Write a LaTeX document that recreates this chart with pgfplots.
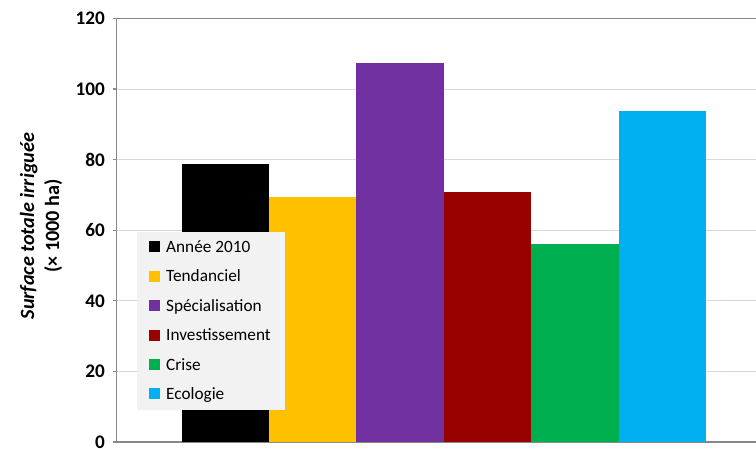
\documentclass[border=0pt]{standalone}
\usepackage{pgfplots}
\pgfplotsset{compat=1.18}
\usepackage{fontspec}
\setmainfont{Carlito}
\definecolor{c1}{HTML}{000000}
\definecolor{c2}{HTML}{FFC000}
\definecolor{c3}{HTML}{7030A0}
\definecolor{c4}{HTML}{990000}
\definecolor{c5}{HTML}{00B050}
\definecolor{c6}{HTML}{00B0F0}
\definecolor{axgray}{HTML}{898989}
\definecolor{gridgray}{HTML}{D9D9D9}
\definecolor{legfill}{HTML}{F2F2F2}
\begin{document}
\begin{tikzpicture}
\useasboundingbox (0,0) rectangle (756bp,449bp);
\begin{axis}[
  at={(116.5bp,7bp)}, anchor=south west,
  scale only axis, width=639.5bp, height=423.5bp,
  xmin=0, xmax=639.5, ymin=0, ymax=120,
  ytick={0,20,...,120}, xtick=\empty,
  axis x line*=bottom, axis y line*=left,
  axis line style={axgray, line width=1.2pt},
  ymajorgrids, grid style={gridgray, line width=0.9pt},
  y tick style={axgray, line width=1.2pt}, tick align=outside,
  major tick length=4bp,
  ticklabel style={font=\fontsize{19.3}{19.3}\selectfont\bfseries},
  /pgf/number format/assume math mode=true,
  yticklabel style={xshift=-4bp},
  ylabel={\textit{Surface totale irriguée}\\(× 1000 ha)},
  ylabel style={font=\fontsize{20.3}{25}\selectfont\bfseries, align=center, at={(axis description cs:-0.118,0.51)}, anchor=center},
  ybar, bar shift=0pt, bar width=87.5,
  legend style={at={(20bp,210bp)}, anchor=north west, fill=legfill, draw=none,
    font=\fontsize{17.3}{17.3}\selectfont, row sep=12bp, inner xsep=12.5bp, inner ysep=6.5bp,
    /tikz/every odd column/.append style={column sep=4bp}},
  legend cell align=left,
  legend image code/.code={\fill[#1] (0bp,-5bp) rectangle (11bp,6bp);},
  clip=false,
]
\addplot[fill=c1, draw=none] coordinates {(109,78.7)};
\addlegendentry{Année 2010}
\addplot[fill=c2, draw=none] coordinates {(196.5,69.3)};
\addlegendentry{Tendanciel}
\addplot[fill=c3, draw=none] coordinates {(283.5,107.5)};
\addlegendentry{Spécialisation}
\addplot[fill=c4, draw=none] coordinates {(371,70.9)};
\addlegendentry{Investissement}
\addplot[fill=c5, draw=none] coordinates {(458.5,56.2)};
\addlegendentry{Crise}
\addplot[fill=c6, draw=none] coordinates {(546,93.8)};
\addlegendentry{Ecologie}
\draw[axgray, line width=1.2pt] (axis cs:0,120) -- (axis cs:639.5,120);
\end{axis}
\end{tikzpicture}
\end{document}
